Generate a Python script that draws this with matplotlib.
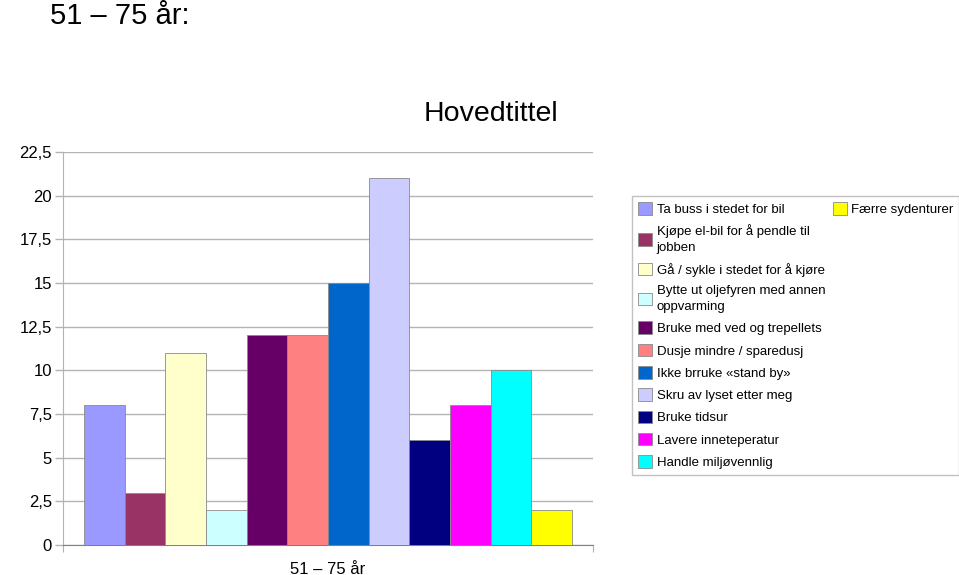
import numpy as np
import matplotlib
matplotlib.use('Agg')
import matplotlib.pyplot as plt
from matplotlib.ticker import FuncFormatter

plt.rcParams['font.family'] = ['Liberation Sans', 'DejaVu Sans']

# Data
category = '51 – 75 år'
labels = [
    'Ta buss i stedet for bil',
    'Kjøpe el-bil for å pendle til\njobben',
    'Gå / sykle i stedet for å kjøre',
    'Bytte ut oljefyren med annen\noppvarming',
    'Bruke med ved og trepellets',
    'Dusje mindre / sparedusj',
    'Ikke brruke «stand by»',
    'Skru av lyset etter meg',
    'Bruke tidsur',
    'Lavere inneteperatur',
    'Handle miljøvennlig',
    'Færre sydenturer',
]
values = [8, 3, 11, 2, 12, 12, 15, 21, 6, 8, 10, 2]
colors = ['#9999ff', '#993366', '#ffffcc', '#ccffff', '#660066', '#ff8080',
          '#0066cc', '#ccccff', '#000080', '#ff00ff', '#00ffff', '#ffff00']
y_ticks = np.arange(0, 22.5 + 0.1, 2.5)


def main():
    fig = plt.figure(figsize=(9.59, 5.75), dpi=100)
    ax = fig.add_axes([63 / 959, 1 - 545 / 575, 530 / 959, 393 / 575])

    n = len(values)
    gap = 0.0396
    w = (1 - 2 * gap) / n
    bars = []
    for i, (v, c) in enumerate(zip(values, colors)):
        b = ax.bar(gap + w * (i + 0.5), v, w, color=c, edgecolor='#8a8a8a',
                   linewidth=0.6, zorder=3)
        bars.append(b)

    ax.set_xlim(0, 1)
    ax.set_ylim(0, 22.5)
    ax.set_yticks(y_ticks)
    ax.yaxis.set_major_formatter(FuncFormatter(
        lambda v, _: ('%g' % v).replace('.', ',')))
    ax.yaxis.grid(True, color='#b3b3b3', linewidth=1, zorder=0)
    ax.tick_params(axis='y', length=6, width=1, color='#b3b3b3',
                   labelsize=12, pad=2)

    ax.set_xticks([0, 1])
    ax.set_xticklabels(['', ''])
    ax.set_xticks([0.5], minor=True)
    ax.set_xticklabels([category], minor=True, fontsize=12)
    ax.tick_params(axis='x', which='major', length=5, color='#b3b3b3')
    ax.tick_params(axis='x', which='minor', length=0, pad=12)

    for s in ['top', 'right']:
        ax.spines[s].set_visible(False)
    ax.spines['left'].set_color('#b3b3b3')
    ax.spines['bottom'].set_color('#808080')

    fig.text(50 / 959, 1 - 16 / 575, '51 – 75 år:', fontsize=21,
             ha='left', va='center')
    fig.text(491 / 959, 1 - 114 / 575, 'Hovedtittel', fontsize=20.5,
             ha='center', va='center')

    # legend: 11 entries in first column, 1 in second
    handles = [b[0] for b in bars]
    blank = [plt.Rectangle((0, 0), 1, 1, facecolor='none', edgecolor='none')
             for _ in range(10)]
    leg = ax.legend(handles + blank, labels + [''] * 10, ncols=2,
                    loc='upper left',
                    bbox_to_anchor=(632 / 959, 1 - 196 / 575),
                    bbox_transform=fig.transFigure,
                    fontsize=9.5, frameon=True, fancybox=False,
                    edgecolor='#b3b3b3', borderpad=0.45, labelspacing=0.64,
                    handlelength=1.1, handleheight=1.1, handletextpad=0.32,
                    columnspacing=0.55, borderaxespad=0)
    leg.get_frame().set_linewidth(1)
    for t in leg.get_texts():
        t.set_linespacing(1.45)

    fig.savefig('out.png', dpi=100, facecolor='white')


if __name__ == '__main__':
    main()
